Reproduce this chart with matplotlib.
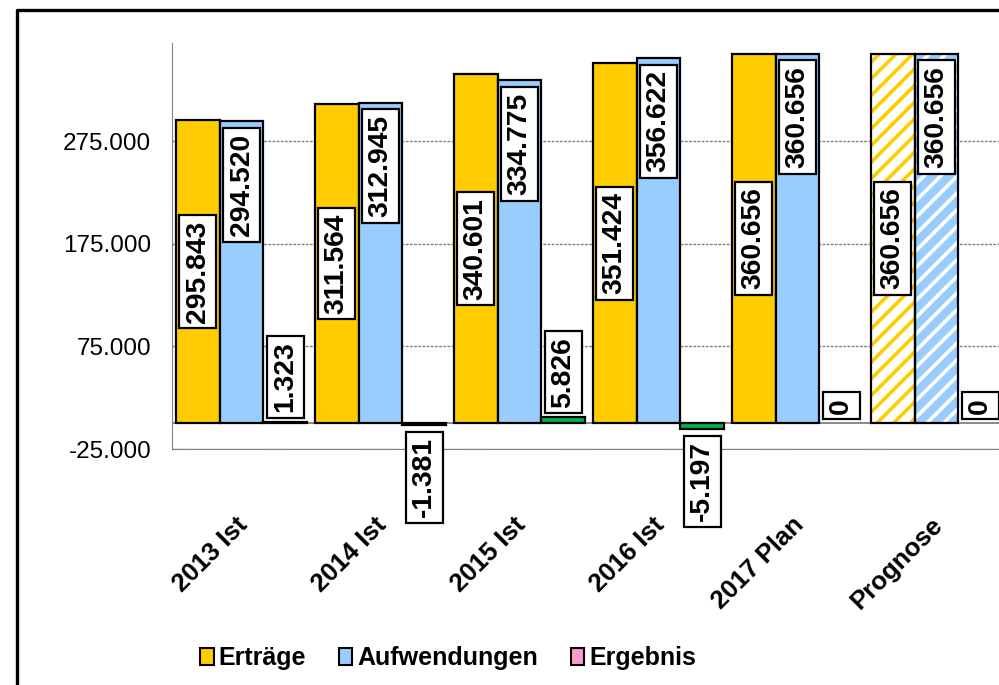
import matplotlib
matplotlib.use('Agg')
import matplotlib.pyplot as plt
from matplotlib.patches import Patch
from matplotlib.lines import Line2D
from matplotlib.ticker import FuncFormatter

# data
categories = ['2013 Ist', '2014 Ist', '2015 Ist', '2016 Ist', '2017 Plan', 'Prognose']
ertraege = [295843, 311564, 340601, 351424, 360656, 360656]
aufwendungen = [294520, 312945, 334775, 356622, 360656, 360656]
ergebnis = [1323, -1381, 5826, -5197, 0, 0]
hatched = [False, False, False, False, False, True]

plt.rcParams['font.family'] = ['Liberation Sans', 'DejaVu Sans']
plt.rcParams['hatch.linewidth'] = 2.6

GOLD = '#FFCC00'
BLUE = '#99CCFF'
GREEN = '#00B050'
PINK = '#FF99CC'

def fmt(v):
    return '{:,.0f}'.format(v).replace(',', '.')

fig = plt.figure(figsize=(9.99, 6.85), dpi=100)
ax = fig.add_axes([172/999, 1-449/685, (1006-172)/999, (449-43)/685])

w = 0.315
xs = list(range(len(categories)))

for i in xs:
    for off, val, col in [(-w, ertraege[i], GOLD), (0, aufwendungen[i], BLUE)]:
        if hatched[i]:
            face, hc = ('white', GOLD) if col == GOLD else (BLUE, 'white')
            ax.bar(i + off, val, w, color=face, edgecolor=hc, hatch='//', linewidth=0, zorder=2)
            ax.bar(i + off, val, w, fill=False, edgecolor='black', linewidth=1.6, zorder=3)
        else:
            ax.bar(i + off, val, w, color=col, edgecolor='black', linewidth=1.6, zorder=3)
    if ergebnis[i] != 0:
        ax.bar(i + w, ergebnis[i], w, color=GREEN, edgecolor='black', linewidth=1.6, zorder=3)

box = dict(boxstyle='square,pad=0.2', facecolor='white', edgecolor='black', linewidth=1.6)
lab = dict(rotation=90, fontsize=20.3, fontweight='bold', bbox=box, zorder=5,
           textcoords='offset points', annotation_clip=False)

for i in xs:
    ax.annotate(fmt(ertraege[i]), (i - w, ertraege[i] / 2), xytext=(0, 0),
                ha='center', va='center', **lab)
    ax.annotate(fmt(aufwendungen[i]), (i, aufwendungen[i]), xytext=(0, -9),
                ha='center', va='top', **lab)
    e = ergebnis[i]
    if e < 0:
        ax.annotate(fmt(e), (i + w, e), xytext=(0, -9), ha='center', va='top', **lab)
    else:
        ax.annotate(fmt(e), (i + w, e), xytext=(0, 7), ha='center', va='bottom', **lab)

ax.set_xlim(-0.5, 5.5)
ax.set_ylim(-25000, 371000)
ax.set_yticks([-25000, 75000, 175000, 275000])
ax.yaxis.set_major_formatter(FuncFormatter(lambda v, p: fmt(v)))
ax.tick_params(axis='y', direction='in', length=3, color='#808080', labelsize=17.5, pad=15)
ax.set_xticks([])
ax.grid(axis='y', color='#808080', linestyle=(0, (2, 1)), linewidth=1, zorder=0)
ax.axhline(0, color='#808080', linewidth=1.3, zorder=1)

for s in ['top', 'right']:
    ax.spines[s].set_visible(False)
ax.spines['left'].set_color('#808080')
ax.spines['bottom'].set_color('#808080')
ax.spines['bottom'].set_linestyle((0, (2, 1)))

for i in xs:
    ax.annotate(categories[i], (i, 0), xycoords=('data', 'axes fraction'),
                xytext=(2, -52), textcoords='offset points', rotation=45,
                rotation_mode='anchor', ha='right', va='center',
                fontsize=18.5, fontweight='bold', annotation_clip=False)

handles = [Patch(facecolor=GOLD, edgecolor='black', linewidth=1.5),
           Patch(facecolor=BLUE, edgecolor='black', linewidth=1.5),
           Patch(facecolor=PINK, edgecolor='black', linewidth=1.5)]
fig.legend(handles, ['Erträge', 'Aufwendungen', 'Ergebnis'], loc='center',
           bbox_to_anchor=(448/999, 1-658/685), ncol=3, frameon=False,
           prop={'size': 18, 'weight': 'bold'}, handlelength=0.55, handleheight=0.7,
           handletextpad=0.2, columnspacing=1.3)

fig.add_artist(Line2D([17/999, 17/999, 1.01], [-0.01, 1-10/685, 1-10/685],
                      transform=fig.transFigure, color='black', linewidth=2.4))

fig.savefig('out.png', dpi=100)
